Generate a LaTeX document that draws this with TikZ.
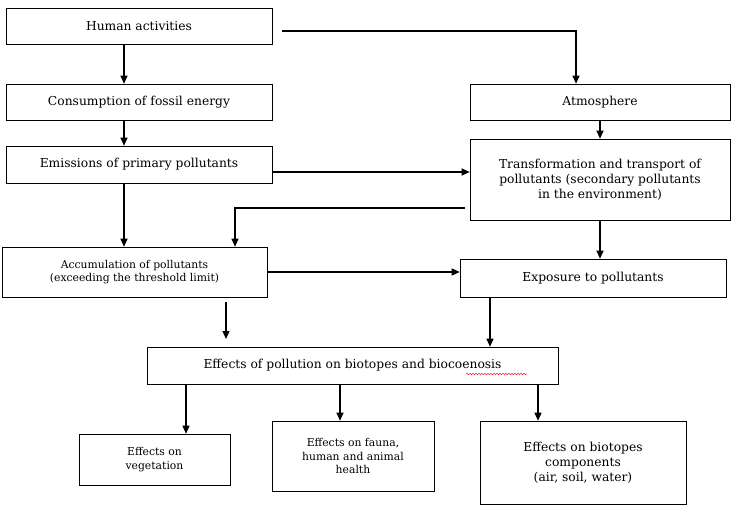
\documentclass[tikz,border=0pt]{standalone}
\usepackage{fontspec}
\setmainfont{DejaVu Serif}
\usetikzlibrary{arrows.meta,decorations.pathmorphing}
\begin{document}
\begin{tikzpicture}[x=1pt,y=-1pt,
  box/.style={draw,line width=0.6pt,align=center,inner sep=0pt,font=\fontsize{12.3}{15}\selectfont},
  sbox/.style={box,font=\fontsize{10.8}{13.5}\selectfont},
  arr/.style={-{Triangle[length=8pt,width=7pt]},line width=1.2pt}]
\useasboundingbox (0,0) rectangle (746,510);
\newcommand{\bx}[6]{\node[#1,minimum width={#4-#2},minimum height={#5-#3}] (#6) at ({(#2+#4)/2},{(#3+#5)/2})}
\bx{box}{6}{8}{272}{44}{ha} {Human activities};
\bx{box}{6}{84}{272}{120}{cf} {Consumption of fossil energy};
\bx{box}{6}{146}{272}{183}{em} {Emissions of primary pollutants};
\bx{box}{470}{84}{730}{120}{at} {Atmosphere};
\bx{box}{470}{139}{730}{220}{tr} {Transformation and transport of\\pollutants (secondary pollutants\\in the environment)};
\bx{sbox}{2}{247}{267}{297}{ac} {Accumulation of pollutants\\(exceeding the threshold limit)};
\bx{box}{460}{259}{726}{297}{ex} {Exposure to pollutants};
\bx{box}{147}{347}{558}{384}{ef} {Effects of pollution on biotopes and biocoenosis};
\bx{sbox}{79}{434}{230}{485}{ve} {Effects on\\vegetation};
\bx{sbox}{272}{421}{434}{491}{fa} {Effects on fauna,\\human and animal\\health};
\bx{box}{480}{421}{686}{504}{bc} {Effects on biotopes\\components\\(air, soil, water)};
\draw[red,line width=0.4pt,decorate,decoration={snake,amplitude=0.8pt,segment length=3pt}] (466,374) -- (527,374);
\coordinate (p1) at (282,31); \coordinate (p2) at (576,31);
\coordinate (q1) at (465,208); \coordinate (q2) at (235,208);
\coordinate (r1) at (226,302); \coordinate (r2) at (226,339);
\draw[arr] (ha.south -| 124,0) -- (cf.north -| 124,0);
\draw[arr] (cf.south -| 124,0) -- (em.north -| 124,0);
\draw[arr] (em.south -| 124,0) -- (ac.north -| 124,0);
\draw[arr] (p1) -- (p2) -- (at.north -| p2);
\draw[arr] (at.south -| 600,0) -- (tr.north -| 600,0);
\draw[arr] (em.east |- 0,172) -- (tr.west |- 0,172);
\draw[arr] (q1) -- (q2) -- (ac.north -| q2);
\draw[arr] (tr.south -| 600,0) -- (ex.north -| 600,0);
\draw[arr] (ac.east |- 0,272) -- (ex.west |- 0,272);
\draw[arr] (r1) -- (r2);
\draw[arr] (ex.south -| 490,0) -- (ef.north -| 490,0);
\draw[arr] (ef.south -| 186,0) -- (ve.north -| 186,0);
\draw[arr] (ef.south -| 340,0) -- (fa.north -| 340,0);
\draw[arr] (ef.south -| 538,0) -- (bc.north -| 538,0);
\end{tikzpicture}
\end{document}
